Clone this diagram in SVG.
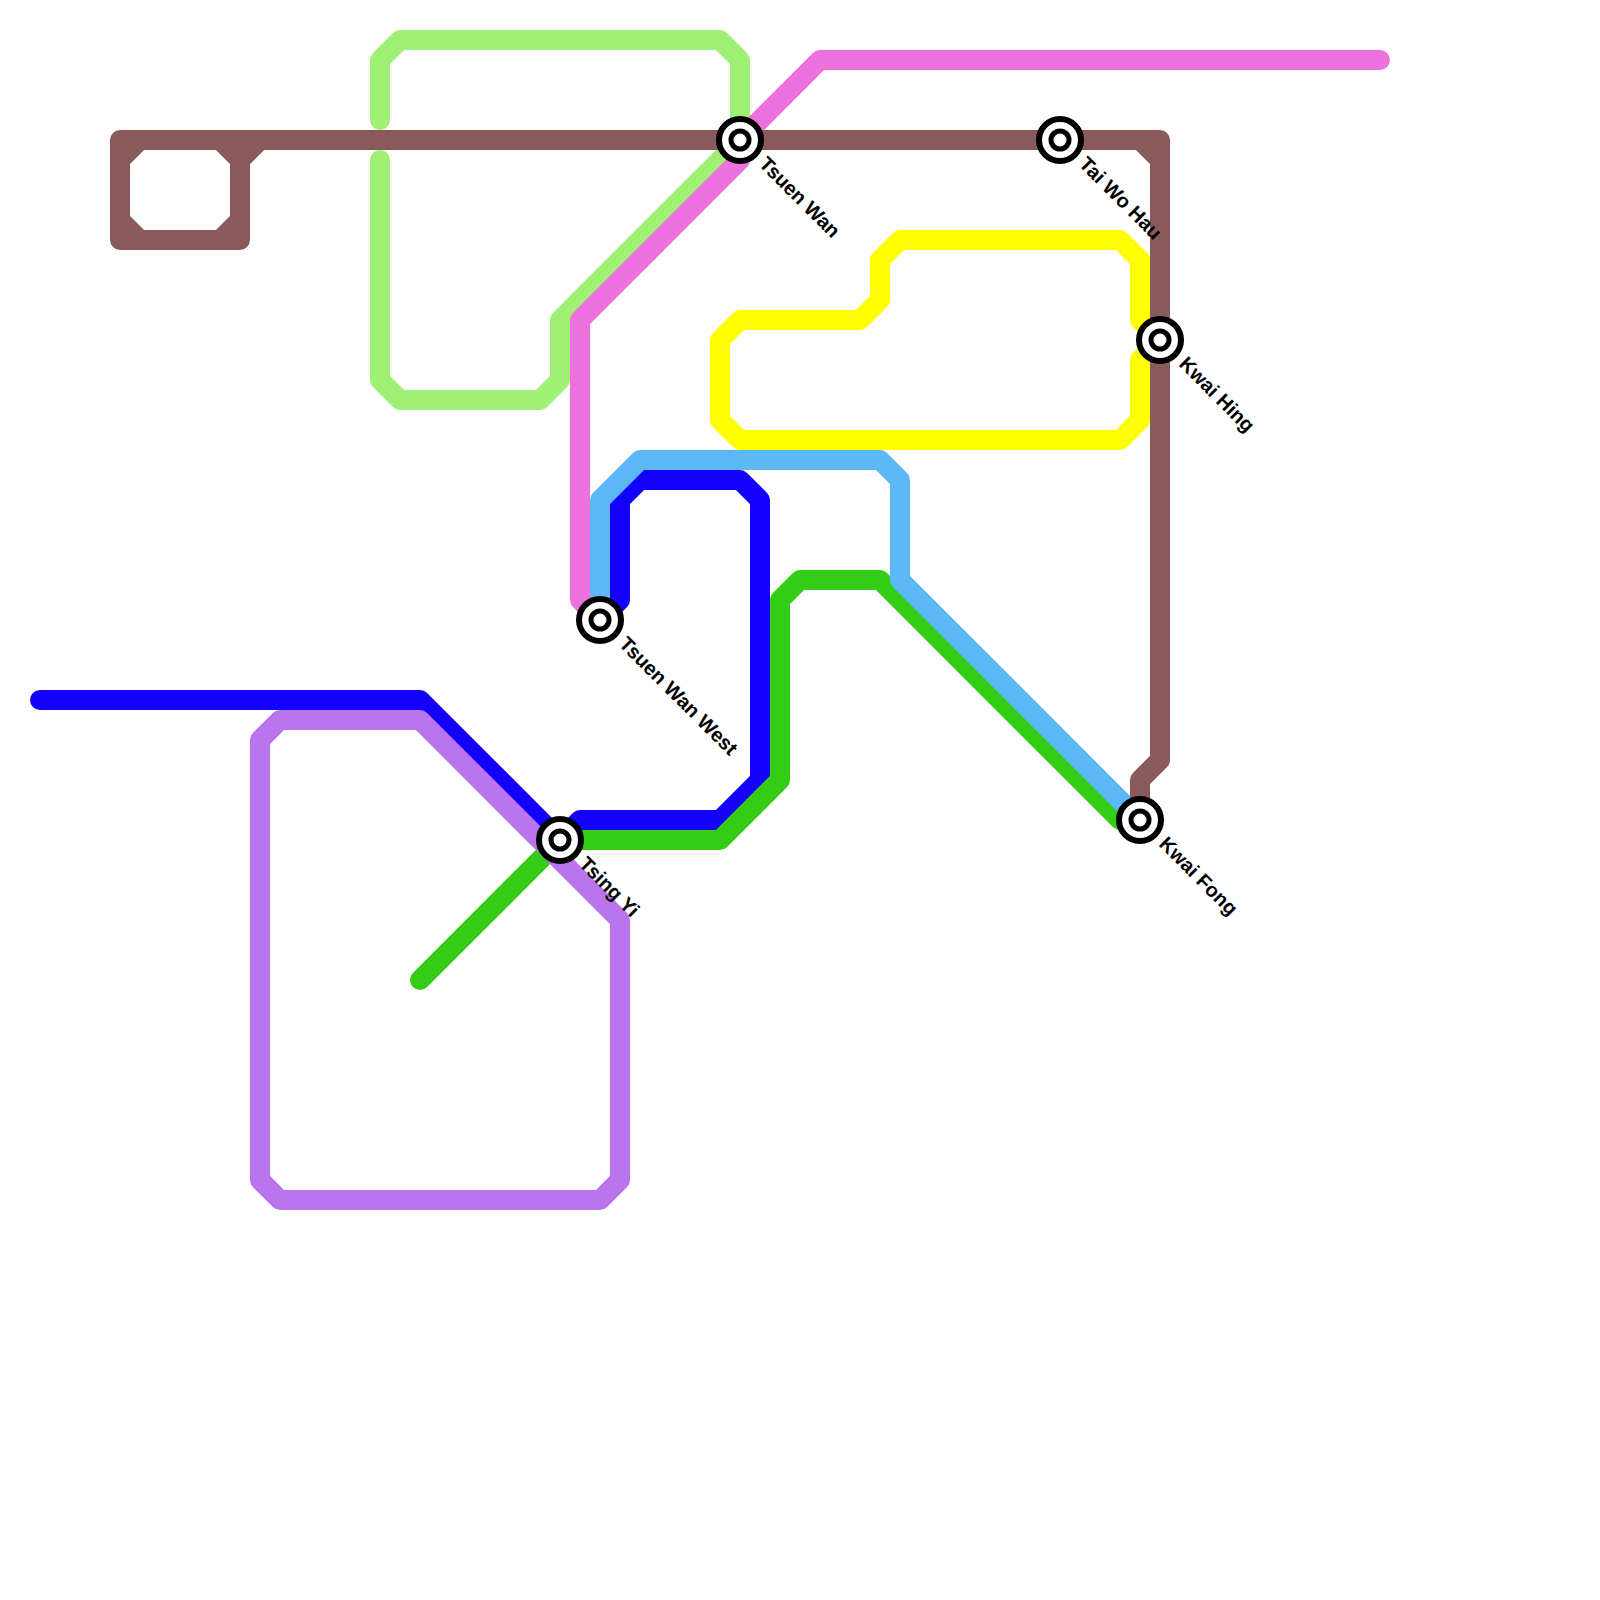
<svg xmlns="http://www.w3.org/2000/svg" width="1600" height="1600" viewBox="0 0 1600 1600">
<style>
.l{fill:none;stroke-width:20;stroke-linejoin:round;stroke-linecap:round}
.o{fill:#fff;stroke:#000;stroke-width:6}
.i{fill:#fff;stroke:#000;stroke-width:5}
.t{font-family:"Liberation Sans",Arial,sans-serif;font-size:20px;font-weight:700;fill:#000}
</style>
<rect width="1600" height="1600" fill="#fff"/>
<g id="connectors">
<path id="line-yellow" class="l" stroke="#ffff00" d="M1160,340L1140,320L1140,260L1120,240L900,240L880,260L880,300L860,320L740,320L720,340L720,420L740,440L1120,440L1140,420L1140,360L1160,340"/>
<path id="line-lightgreen" class="l" stroke="#a0f075" d="M380,120L380,60L400,40L720,40L740,60L740,140L560,320L560,380L540,400L400,400L380,380L380,160"/>
<path id="line-blue" class="l" stroke="#1400ff" d="M40,700L420,700L560,840L580,820L720,820L760,780L760,500L740,480L640,480L620,500L620,600L600,620"/>
<path id="line-green" class="l" stroke="#32cd14" d="M420,980L560,840L720,840L780,780L780,600L800,580L880,580L1120,820L1140,820"/>
<path id="line-purple" class="l" stroke="#b974ee" d="M260,740L280,720L420,720L620,920L620,1180L600,1200L280,1200L260,1180Z"/>
<path id="line-sky" class="l" stroke="#5db9f5" d="M600,620L600,500L640,460L880,460L900,480L900,580L1140,820"/>
<path id="line-pink" class="l" stroke="#ed72dd" d="M600,620L580,600L580,320L740,160L740,140L820,60L1380,60"/>
<path id="line-brown" class="l" stroke="#8a5a5a" d="M1140,820L1140,780L1160,760L1160,140L120,140L120,240L240,240L240,160L260,140M240,160L220,140M120,160L140,140M120,220L140,240M220,240L240,220M1140,140L1160,160"/>
</g>
<g id="station-tsuen-wan"><circle class="o" cx="740" cy="140" r="21"/><circle class="i" cx="740" cy="140" r="9"/><text class="t" transform="translate(740,140) rotate(45)" x="30.5" y="5">Tsuen Wan</text></g>
<g id="station-tai-wo-hau"><circle class="o" cx="1060" cy="140" r="21"/><circle class="i" cx="1060" cy="140" r="9"/><text class="t" transform="translate(1060,140) rotate(45)" x="30.5" y="5">Tai Wo Hau</text></g>
<g id="station-kwai-hing"><circle class="o" cx="1160" cy="340" r="21"/><circle class="i" cx="1160" cy="340" r="9"/><text class="t" transform="translate(1160,340) rotate(45)" x="30.5" y="5">Kwai Hing</text></g>
<g id="station-kwai-fong"><circle class="o" cx="1140" cy="820" r="21"/><circle class="i" cx="1140" cy="820" r="9"/><text class="t" transform="translate(1140,820) rotate(45)" x="30.5" y="5">Kwai Fong</text></g>
<g id="station-tsing-yi"><circle class="o" cx="560" cy="840" r="21"/><circle class="i" cx="560" cy="840" r="9"/><text class="t" transform="translate(560,840) rotate(45)" x="30.5" y="5">Tsing Yi</text></g>
<g id="station-tsuen-wan-west"><circle class="o" cx="600" cy="620" r="21"/><circle class="i" cx="600" cy="620" r="9"/><text class="t" transform="translate(600,620) rotate(45)" x="30.5" y="5">Tsuen Wan West</text></g>
</svg>
